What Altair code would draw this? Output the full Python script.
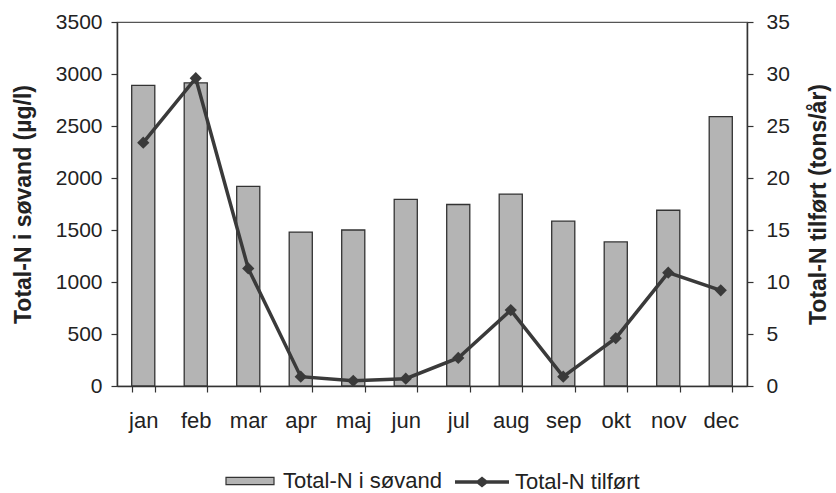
import altair as alt
import pandas as pd

months = ["jan", "feb", "mar", "apr", "maj", "jun", "jul", "aug", "sep", "okt", "nov", "dec"]
soevand = [2890, 2915, 1920, 1480, 1500, 1795, 1745, 1845, 1585, 1385, 1690, 2590]
tilfoert = [23.4, 29.6, 11.3, 0.9, 0.5, 0.7, 2.7, 7.3, 0.9, 4.6, 10.9, 9.2]
bar_label = "Total-N i søvand"
line_label = "Total-N tilført"

df = pd.DataFrame({
    "month": months,
    "soevand": soevand,
    "tilfoert": tilfoert,
    "bar_series": [bar_label] * len(months),
    "line_series": [line_label] * len(months),
})

FONT = "Liberation Sans"
DARK = "#3a3a3a"
TXT = "#222"

x_enc = alt.X(
    "month:N",
    sort=months,
    scale=alt.Scale(paddingInner=0.56, paddingOuter=0.28),
    axis=alt.Axis(
        title=None, labelAngle=0, tickBand="extent", tickSize=6,
        labelPadding=18, labelFontSize=22, labelFont=FONT, labelColor=TXT,
        domainColor="#333", domainWidth=1.5, tickColor="#333", tickWidth=1.2,
    ),
)

bars = alt.Chart(df).mark_bar(stroke="#333", strokeWidth=1.3).encode(
    x=x_enc,
    y=alt.Y(
        "soevand:Q",
        scale=alt.Scale(domain=[0, 3500], nice=False),
        axis=alt.Axis(
            title="Total-N i søvand (µg/l)", orient="left", values=list(range(0, 3501, 500)),
            format="d", tickSize=6, labelPadding=9, labelFontSize=21, labelFont=FONT,
            labelColor=TXT, titleFont=FONT, titleFontSize=23, titleFontWeight="bold",
            titleColor=TXT, titleAngle=270, titleX=-94, titleY=182, titleAlign="center",
            titleBaseline="middle", grid=False, domainColor="#333", domainWidth=1.5,
            tickColor="#333", tickWidth=1.2,
        ),
    ),
    fill=alt.Fill(
        "bar_series:N",
        scale=alt.Scale(range=["#b4b4b4"]),
        legend=alt.Legend(
            title=None, orient="none", legendX=108, legendY=434,
            symbolType="M-1,-0.15H1V0.15H-1Z", symbolSize=2304,
            symbolStrokeColor="#333", symbolStrokeWidth=1.2,
            labelFontSize=22, labelFont=FONT, labelColor=TXT, labelOffset=8,
        ),
    ),
)

right_axis = alt.Axis(
    title="Total-N tilført (tons/år)", orient="right", values=list(range(0, 36, 5)),
    format="d", tickSize=6, labelPadding=13, labelFontSize=21, labelFont=FONT,
    labelColor=TXT, titleFont=FONT, titleFontSize=23, titleFontWeight="bold",
    titleColor=TXT, titleAngle=270, titleX=71, titleY=182, titleAlign="center",
    titleBaseline="middle", grid=False, domainColor="#333", domainWidth=1.5,
    tickColor="#333", tickWidth=1.2,
)
y_right = alt.Y("tilfoert:Q", scale=alt.Scale(domain=[0, 35], nice=False), axis=right_axis)

line = alt.Chart(df).mark_line(strokeWidth=3.5).encode(
    x=alt.X("month:N", sort=months),
    y=y_right,
    stroke=alt.Stroke(
        "line_series:N",
        scale=alt.Scale(range=[DARK]),
        legend=alt.Legend(
            title=None, orient="none", legendX=336, legendY=431,
            symbolType="M-1,0H1M-0.15,0L0,-0.12L0.15,0L0,0.12Z", symbolSize=2916,
            symbolStrokeWidth=3.5, symbolFillColor=DARK,
            labelFontSize=22, labelFont=FONT, labelColor=TXT, labelOffset=4,
        ),
    ),
)

points = alt.Chart(df).mark_point(shape="diamond", filled=True, size=150, color=DARK, opacity=1).encode(
    x=alt.X("month:N", sort=months),
    y=alt.Y("tilfoert:Q", scale=alt.Scale(domain=[0, 35], nice=False)),
)

right_layer = alt.layer(line, points)

chart = alt.layer(bars, right_layer).resolve_scale(
    y="independent", fill="independent", stroke="independent"
).properties(
    width=630,
    height=364,
    autosize=alt.AutoSizeParams(type="none"),
    padding={"left": 117, "top": 22, "right": 89, "bottom": 107},
    background="white",
).configure_view(
    stroke="#555", strokeWidth=1.2,
)

chart.save("out.html", embed_options={"renderer": "svg", "actions": False})
